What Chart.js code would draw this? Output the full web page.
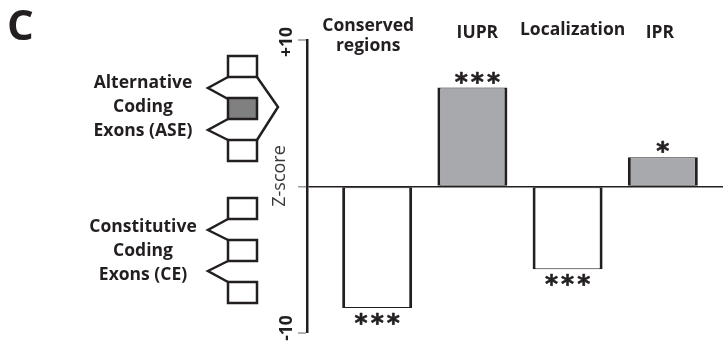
<!DOCTYPE html>
<html>
<head>
<meta charset="utf-8">
<script src="https://cdn.jsdelivr.net/npm/chart.js@4.4.1/dist/chart.umd.min.js"></script>
<style>
  html, body { margin: 0; padding: 0; background: #ffffff; }
  #wrap { width: 723px; height: 344px; position: relative; }
</style>
</head>
<body>
<div id="wrap"><canvas id="c" width="723" height="344"></canvas></div>
<script>
// ---- data ----
const categories = ['Conserved regions', 'IUPR', 'Localization', 'IPR'];
const categoryLabelLines = [['Conserved', 'regions'], ['IUPR'], ['Localization'], ['IPR']];
const zScores = [-8.3, 6.75, -5.65, 2.0];
const significance = ['***', '***', '***', '*'];
const yTickValues = [-10, 0, 10];
const yTickLabels = ['-10', '', '+10'];
const yTitle = 'Z-score';
const panelLabel = 'C';
const aseLabel = ['Alternative', 'Coding', 'Exons (ASE)'];
const ceLabel = ['Constitutive', 'Coding', 'Exons (CE)'];

// ---- styling ----
const INK = '#231f20';
const BAR_POS = '#a7a9ac';
const BAR_NEG = '#ffffff';
const EXON_ALT = '#808080';
const FAM = '"Open Sans", Lato, sans-serif';
const BOLD = 'bold 17.5px ' + FAM;

const barData = zScores.map((v, i) => ({ x: i, y: v }));

function drawText(ctx, txt, x, y, font, align, color) {
  ctx.font = font; ctx.textAlign = align || 'center';
  ctx.textBaseline = 'alphabetic'; ctx.fillStyle = color || INK;
  ctx.fillText(txt, x, y);
}

const annotate = {
  id: 'annotate',
  afterDraw(chart) {
    const ctx = chart.ctx;
    const xs = chart.scales.x, ys = chart.scales.y;
    ctx.save();

    // panel letter
    drawText(ctx, panelLabel, 7, 40, 'bold 42px ' + FAM, 'left');

    // category labels (top)
    const labelLayout = [
      { dx: -9, base: [31, 51] }, { dx: 5, base: [38] },
      { dx: 5, base: [35] }, { dx: -3, base: [38] }
    ];
    categoryLabelLines.forEach((lines, i) => {
      const cx = xs.getPixelForValue(i) + labelLayout[i].dx;
      lines.forEach((ln, j) => drawText(ctx, ln, cx, labelLayout[i].base[j], BOLD));
    });

    // significance stars
    ctx.save();
    ctx.font = 'bold 25px "DejaVu Sans", sans-serif';
    ctx.letterSpacing = '3px';
    ctx.textAlign = 'center'; ctx.textBaseline = 'alphabetic';
    ctx.fillStyle = INK; ctx.strokeStyle = INK; ctx.lineWidth = 0.6; ctx.lineJoin = 'round';
    significance.forEach((s, i) => {
      const m = ctx.measureText(s);
      const asc = m.actualBoundingBoxAscent, desc = m.actualBoundingBoxDescent;
      const cx = xs.getPixelForValue(i) + 1.5 + (i === 1 ? 5 : 0);
      const py = ys.getPixelForValue(zScores[i]);
      let baseY;
      if (zScores[i] >= 0) baseY = py - 4 - desc;
      else baseY = py + 5 + asc;
      ctx.fillText(s, cx, baseY);
      ctx.strokeText(s, cx, baseY);
    });
    ctx.restore();

    // y tick labels (rotated)
    ctx.font = 'bold 17.5px ' + FAM;
    yTickValues.forEach((v, i) => {
      if (!yTickLabels[i]) return;
      const py = ys.getPixelForValue(v) + (v > 0 ? 2 : -5);
      ctx.save();
      ctx.translate(287, py);
      ctx.rotate(-Math.PI / 2);
      ctx.textAlign = 'center'; ctx.textBaseline = 'middle'; ctx.fillStyle = INK;
      ctx.fillText(yTickLabels[i], 0, 0);
      ctx.restore();
    });

    // y title
    ctx.save();
    ctx.translate(280, 176);
    ctx.rotate(-Math.PI / 2);
    ctx.font = '18px ' + FAM;
    ctx.textAlign = 'center'; ctx.textBaseline = 'middle'; ctx.fillStyle = '#3a3a3a';
    ctx.fillText(yTitle, 0, 0);
    ctx.restore();

    // left labels
    [88, 112, 136].forEach((b, j) => drawText(ctx, aseLabel[j], 143, b, BOLD));
    [232, 256, 280].forEach((b, j) => drawText(ctx, ceLabel[j], 143, b, BOLD));

    // exon schematics
    ctx.lineWidth = 2.5; ctx.strokeStyle = INK; ctx.lineJoin = 'miter';
    const box = (y, fill) => {
      ctx.fillStyle = fill; ctx.fillRect(228, y, 29, 21);
      ctx.strokeRect(228, y, 29, 21);
    };
    const poly = pts => {
      ctx.beginPath(); ctx.moveTo(pts[0][0], pts[0][1]);
      pts.slice(1).forEach(p => ctx.lineTo(p[0], p[1])); ctx.stroke();
    };
    // ASE
    poly([[228, 77], [208, 88], [228, 99]]);
    poly([[228, 119], [208, 130], [228, 140]]);
    poly([[257, 77], [278, 107], [257, 140]]);
    box(56, '#ffffff'); box(98, EXON_ALT); box(140, '#ffffff');
    // CE
    poly([[228, 219], [208, 230], [228, 240]]);
    poly([[228, 261], [208, 271], [228, 282]]);
    box(198, '#ffffff'); box(240, '#ffffff'); box(282, '#ffffff');

    ctx.restore();
  }
};

new Chart(document.getElementById('c'), {
  type: 'bar',
  data: {
    datasets: [{
      label: 'Z-score',
      data: barData,
      backgroundColor: c => (c.raw && c.raw.y >= 0 ? BAR_POS : BAR_NEG),
      borderColor: INK,
      borderWidth: { left: 3, right: 3, top: 1, bottom: 1 },
      borderSkipped: false,
      barPercentage: 0.735,
      categoryPercentage: 1
    }]
  },
  options: {
    responsive: false,
    animation: false,
    devicePixelRatio: 1,
    layout: { padding: { left: 270, top: 40, bottom: 11, right: 0 } },
    plugins: { legend: { display: false }, tooltip: { enabled: false }, title: { display: false } },
    scales: {
      x: {
        type: 'linear', display: false, offset: false,
        min: -0.737, max: 3.632,
        afterBuildTicks: s => { s.ticks = categories.map((_, i) => ({ value: i })); }
      },
      y: {
        min: -10, max: 10,
        ticks: { display: false, stepSize: 10 },
        grid: {
          color: c => (c.tick && c.tick.value === 0 ? INK : 'rgba(0,0,0,0)'),
          lineWidth: c => (c.tick && c.tick.value === 0 ? 1.5 : 0),
          tickColor: '#9a9a9a', tickWidth: 1.5, tickLength: 9, drawTicks: true
        },
        border: { display: true, color: INK, width: 2.5 },
        afterFit: s => { s.width = 37; }
      }
    }
  },
  plugins: [annotate]
});
</script>
</body>
</html>
